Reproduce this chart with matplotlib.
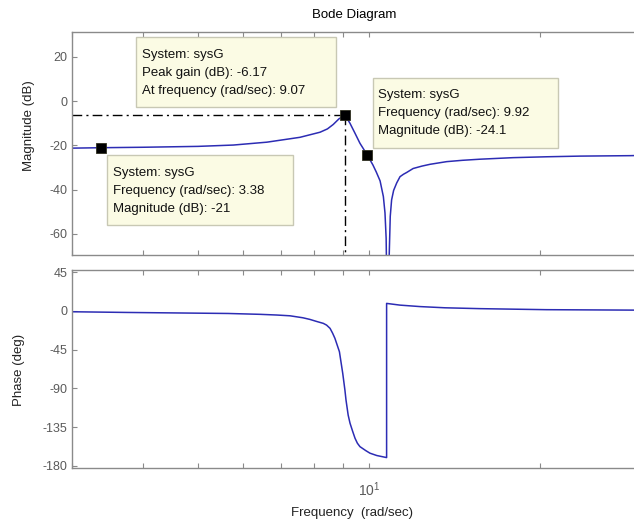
import numpy as np
import matplotlib
matplotlib.use("Agg")
import matplotlib.pyplot as plt
from matplotlib.patches import Rectangle
from matplotlib.ticker import LogLocator, NullFormatter, LogFormatterSciNotation

plt.rcParams['font.family'] = ['Liberation Sans', 'DejaVu Sans']
plt.rcParams['axes.unicode_minus'] = False

# == Magnitude response of sysG (rad/sec, dB) == #
mag_freq = [3.0, 3.38, 4.0, 5.0, 5.77, 6.61, 7.56, 8.2, 8.45, 8.65, 8.85, 9.07,
            9.26, 9.45, 9.64, 9.92, 10.16, 10.3, 10.46, 10.6, 10.67, 10.72,
            10.77, 10.84, 10.9, 10.96, 11.05, 11.19, 11.34, 11.5, 11.65, 11.96,
            12.4, 12.81, 13.7, 14.6, 15.68, 17.93, 20.55, 23.52, 28.8, 30.0]
mag_db = [-21.2, -21.0, -20.8, -20.4, -19.8, -18.5, -16.3, -14.0, -12.5,
          -10.5, -8.0, -6.17, -10.0, -14.5, -19.0, -24.1, -28.8, -32.0, -36.0,
          -43.1, -50.5, -62.0, -100.0, -75.0, -52.0, -44.6, -40.3, -36.9,
          -34.1, -33.0, -32.2, -30.4, -29.3, -28.5, -27.3, -26.7, -26.2,
          -25.5, -25.1, -24.8, -24.6, -24.5]

# == Phase response of sysG (rad/sec, deg) == #
ph_freq = [3.0, 3.74, 5.65, 6.43, 6.88, 7.26, 7.65, 7.87, 8.09, 8.31, 8.42,
           8.54, 8.63, 8.71, 8.87, 8.99, 9.07, 9.11, 9.19, 9.26, 9.36, 9.45,
           9.54, 9.64, 9.87, 10.04, 10.32, 10.74, 10.74, 11.34, 12.3, 13.61,
           15.7, 20.55, 29.2, 30.0]
ph_deg = [-1.0, -1.8, -3.0, -4.0, -4.8, -5.7, -8.0, -9.9, -12.3, -14.5, -16.5,
          -20.3, -26.0, -31.9, -47.4, -72.5, -92.0, -103.5, -121.0, -130.5,
          -140.0, -148.0, -153.7, -157.7, -162.3, -165.3, -168.0, -170.4,
          8.7, 6.7, 5.0, 3.6, 2.6, 1.4, 0.9, 0.8]

# == Data tips == #
tip_freq = [3.38, 9.07, 9.92]
tip_db = [-21.0, -6.17, -24.1]
tip_text = [
    ["System: sysG", "Frequency (rad/sec): 3.38", "Magnitude (dB): -21"],
    ["System: sysG", "Peak gain (dB): -6.17", "At frequency (rad/sec): 9.07"],
    ["System: sysG", "Frequency (rad/sec): 9.92", "Magnitude (dB): -24.1"],
]

W, H = 634, 524
fig = plt.figure(figsize=(W / 100, H / 100), dpi=100)


def px(x, y):
    " pixel position (from top-left) to figure fraction "
    return x / W, 1 - y / H


def axes_rect(left, top, right, bottom):
    return [left / W, 1 - bottom / H, (right - left) / W, (bottom - top) / H]


line_col = '#2c2cb4'
spine_col = '#8a8a8a'
tick_col = '#5a5a5a'

ax1 = fig.add_axes(axes_rect(72, 32, 640, 255))
ax2 = fig.add_axes(axes_rect(72, 270, 640, 468))

for ax in (ax1, ax2):
    ax.set_xscale('log')
    ax.set_xlim(3, 30)
    ax.xaxis.set_major_locator(LogLocator(base=10))
    ax.xaxis.set_minor_locator(LogLocator(base=10, subs=np.arange(2, 10)))
    ax.xaxis.set_minor_formatter(NullFormatter())
    ax.tick_params(which='both', direction='in', top=True, right=True,
                   colors=spine_col, labelcolor=tick_col, labelsize=9,
                   length=3.5, width=0.8)
    for s in ax.spines.values():
        s.set_color(spine_col)
        s.set_linewidth(1.0)

# Magnitude
ax1.plot(mag_freq, mag_db, color=line_col, lw=1.1)
ax1.set_ylim(-69.5, 31.3)
ax1.set_yticks([-60, -40, -20, 0, 20])
ax1.xaxis.set_major_formatter(NullFormatter())

# peak gain guide lines
ax1.plot([3, tip_freq[1]], [tip_db[1], tip_db[1]], color='k', lw=1.0,
         dashes=(7, 3, 1.5, 3))
ax1.plot([tip_freq[1], tip_freq[1]], [tip_db[1], -69.5], color='k', lw=1.0,
         dashes=(7, 3, 1.5, 3))
ax1.plot(tip_freq, tip_db, 's', color='k', ms=7.5, mec='#303020', mew=0.6,
         clip_on=False, zorder=5)

# Phase
ax2.plot(ph_freq, ph_deg, color=line_col, lw=1.1)
ax2.set_ylim(-182.5, 47.5)
ax2.set_yticks([-180, -135, -90, -45, 0, 45])
ax2.xaxis.set_major_formatter(LogFormatterSciNotation())
ax2.tick_params(axis='x', which='major', pad=9, labelsize=10)

# Data tip boxes: (left, top, right, bottom) in pixels, text left, first line
boxes = [(107, 155, 293, 225, 113, 173),
         (136, 37, 336, 107, 142, 55),
         (373, 78, 558, 148, 378, 95)]
for (l, t, r, b, tx, ty), lines in zip(boxes, tip_text):
    x0, y0 = px(l, b)
    fig.patches.append(Rectangle((x0, y0), (r - l) / W, (b - t) / H,
                                 transform=fig.transFigure, facecolor='#fbfbe4',
                                 edgecolor='#c8c8b4', lw=1.0, zorder=3))
    for i, s in enumerate(lines):
        fig.text(*px(tx, ty + 18 * i), s, fontsize=9.5, va='center',
                 ha='left', color='#111111', zorder=4)

fig.text(*px(354, 15), 'Bode Diagram', fontsize=9.5, ha='center', va='center')
fig.text(*px(29, 126), 'Magnitude (dB)', fontsize=9.5, rotation=90,
         ha='center', va='center', color='#222222')
fig.text(*px(19, 370), 'Phase (deg)', fontsize=9.5, rotation=90,
         ha='center', va='center', color='#222222')
fig.text(*px(352, 513), 'Frequency  (rad/sec)', fontsize=9.5,
         ha='center', va='center', color='#222222')

fig.savefig('out.png', dpi=100, facecolor='white')
